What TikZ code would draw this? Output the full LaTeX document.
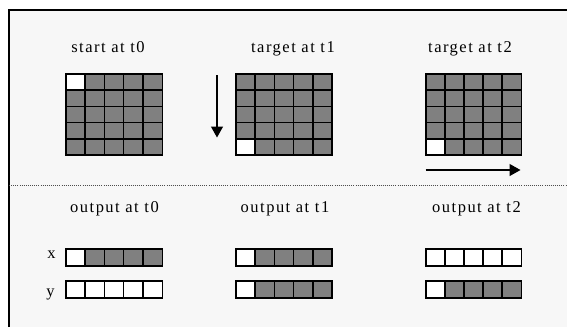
\documentclass[tikz,border=0pt]{standalone}
\usepackage{fontspec}
\setmainfont{Liberation Serif}[LetterSpace=9]
\usetikzlibrary{arrows.meta}
\definecolor{bgc}{HTML}{F7F7F7}
\definecolor{cellgray}{HTML}{808080}
\tikzset{
  lbl/.style={font=\fontsize{16.5}{19}\selectfont, anchor=base, inner sep=0pt},
  cellline/.style={line width=1.5pt, black},
  arr/.style={line width=1.3pt, -{Triangle[width=12pt,length=11pt]}},
  sep/.style={line width=0.9pt, dash pattern=on 0.9pt off 1.2pt, black!70},
  frame/.style={line width=1.4pt, black}
}
% #1 x0, #2 y0, #3 ncols, #4 nrows, #5 cell w, #6 cell h, #7 list of white cells col/row
\newcommand\drawcells[7]{%
  \fill[cellgray] (#1,#2) rectangle ({#1+#3*#5},{#2+#4*#6});
  \foreach \cc/\rr in {#7} {\fill[white] ({#1+\cc*#5},{#2+\rr*#6}) rectangle ++(#5,#6);}
  \foreach \ii in {0,...,#3} {\draw[cellline] ({#1+\ii*#5},#2) -- ++(0,{#4*#6});}
  \foreach \jj in {0,...,#4} {\draw[cellline] (#1,{#2+\jj*#6}) -- ++({#3*#5},0);}
  \draw[cellline] (#1,#2) rectangle ({#1+#3*#5},{#2+#4*#6});
}
\begin{document}
\begin{tikzpicture}[x=1pt,y=-1pt]
\useasboundingbox (0,0) rectangle (567,327);
\fill[white] (0,0) rectangle (567,327);
\fill[bgc] (9,10) rectangle (567,327);
\draw[frame] (9,327) -- (9,10) -- (567,10);

% titles
\node[lbl] (t0) at (108,52) {start at t0};
\node[lbl] (t1) at (293,52) {target at t1};
\node[lbl] (t2) at (470,52) {target at t2};
\node[lbl] (o0) at (114.5,212) {output at t0};
\node[lbl] (o1) at (285,212) {output at t1};
\node[lbl] (o2) at (476.5,212) {output at t2};

% grids
\drawcells{65.8}{74}{5}{5}{19.3}{16.2}{0/0}
\drawcells{236}{74}{5}{5}{19.2}{16.2}{0/4}
\drawcells{425.8}{74}{5}{5}{19.1}{16.2}{0/4}

% output rows
\drawcells{65.8}{249}{5}{1}{19.3}{17}{0/0}
\drawcells{65.8}{281.2}{5}{1}{19.3}{17}{0/0,1/0,2/0,3/0,4/0}
\drawcells{236}{249}{5}{1}{19.2}{17}{0/0}
\drawcells{236}{281.2}{5}{1}{19.2}{17}{0/0}
\drawcells{425.8}{249}{5}{1}{19.1}{17}{0/0,1/0,2/0,3/0,4/0}
\drawcells{425.8}{281.2}{5}{1}{19.1}{17}{0/0}

% row labels
\node[lbl] (lx) at (51.5,258) {x};
\node[lbl] (ly) at (50.5,296) {y};

% arrows
\coordinate (da1) at (217,75);
\coordinate (da2) at (217,137.5);
\draw[arr] (da1) -- (da2);
\coordinate (ra1) at (425.5,170);
\coordinate (ra2) at (520.5,170);
\draw[arr] (ra1) -- (ra2);

% separator
\coordinate (s1) at (9,185.5);
\coordinate (s2) at (567,185.5);
\draw[sep] (s1) -- (s2);
\end{tikzpicture}
\end{document}
